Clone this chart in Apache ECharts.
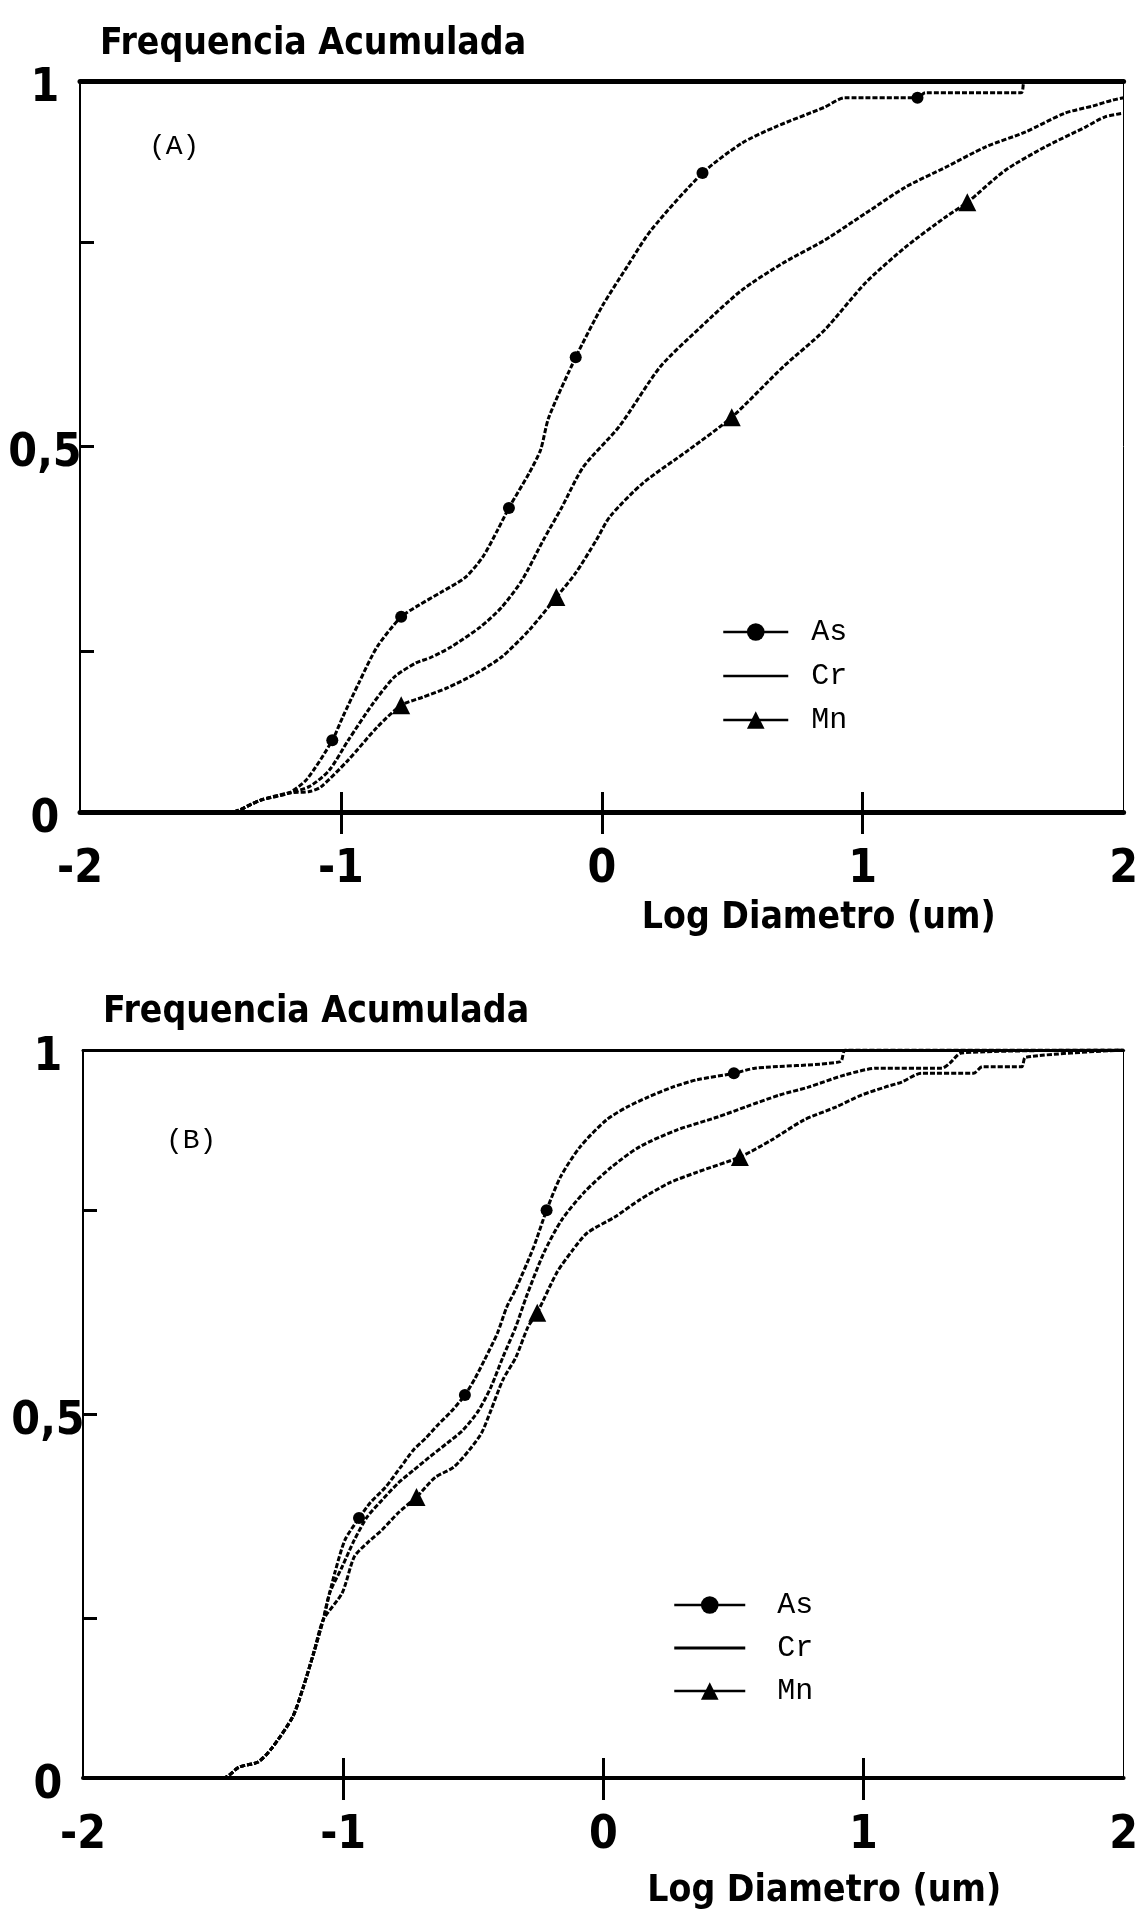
<!DOCTYPE html>
<html><head><meta charset="utf-8">
<script src="https://cdn.jsdelivr.net/npm/echarts@6/dist/echarts.min.js"></script>
<style>html,body{margin:0;padding:0;background:#fff}#c{width:1141px;height:1913px}</style>
</head><body><div id="c"></div>
<script>
// ---------------- data ----------------
const titleText = 'Frequencia Acumulada';
const xName = 'Log Diametro (um)';
const panelLabels = ['(A)', '(B)'];
const seriesNames = ['As', 'Cr', 'Mn'];
const xTickValues = [-1, 0, 1];
const yTickValues = [0.22, 0.5, 0.78];
const yLabelValues = [0, 0.5, 1];

// Panel A
const aAsX = [-2, -1.42, -1.31, -1.20, -1.13, -1.033, -0.993, -0.932, -0.861, -0.769, -0.701, -0.619, -0.523, -0.456, -0.399, -0.356, -0.278, -0.235, -0.203, -0.100, 0.000, 0.097, 0.189, 0.386, 0.537, 0.664, 0.853, 0.931, 1.210, 1.240, 1.607, 1.622, 2];
const aAsY = [0, 0, 0.016, 0.026, 0.045, 0.098, 0.130, 0.176, 0.226, 0.267, 0.283, 0.300, 0.321, 0.349, 0.386, 0.416, 0.464, 0.495, 0.540, 0.622, 0.691, 0.746, 0.796, 0.874, 0.915, 0.937, 0.964, 0.977, 0.977, 0.984, 0.984, 1.0, 1.0];
const aAsMarks = [5, 9, 15, 19, 23, 28];

const aCrX = [-2, -1.42, -1.31, -1.20, -1.12, -1.045, -0.972, -0.876, -0.794, -0.712, -0.658, -0.577, -0.466, -0.384, -0.306, -0.224, -0.153, -0.071, 0.066, 0.224, 0.378, 0.537, 0.695, 0.853, 1.011, 1.165, 1.318, 1.472, 1.622, 1.775, 1.884, 1.959, 2.0];
const aCrY = [0, 0, 0.016, 0.026, 0.035, 0.057, 0.098, 0.149, 0.185, 0.204, 0.211, 0.226, 0.253, 0.280, 0.317, 0.372, 0.417, 0.472, 0.527, 0.609, 0.663, 0.714, 0.751, 0.782, 0.819, 0.855, 0.882, 0.910, 0.930, 0.956, 0.966, 0.974, 0.977];
const aCrMarks = [];

const aMnX = [-2, -1.42, -1.31, -1.20, -1.12, -1.078, -0.972, -0.861, -0.769, -0.687, -0.591, -0.480, -0.384, -0.278, -0.174, -0.100, -0.021, 0.031, 0.158, 0.332, 0.498, 0.695, 0.853, 1.011, 1.165, 1.318, 1.401, 1.547, 1.700, 1.854, 1.929, 2.0];
const aMnY = [0, 0, 0.016, 0.026, 0.028, 0.034, 0.071, 0.116, 0.146, 0.157, 0.170, 0.190, 0.212, 0.249, 0.294, 0.327, 0.372, 0.404, 0.450, 0.495, 0.540, 0.609, 0.659, 0.724, 0.773, 0.814, 0.834, 0.878, 0.910, 0.937, 0.951, 0.956];
const aMnMarks = [8, 14, 20, 26];

// Panel B
const bAsX = [-2, -1.46, -1.40, -1.327, -1.274, -1.194, -1.153, -1.113, -1.077, -1.052, -1.032, -0.993, -0.939, -0.896, -0.836, -0.779, -0.729, -0.682, -0.636, -0.586, -0.532, -0.493, -0.457, -0.407, -0.371, -0.336, -0.268, -0.218, -0.164, -0.089, 0.012, 0.093, 0.170, 0.266, 0.359, 0.502, 0.583, 0.911, 0.931, 2];
const bAsY = [0, 0, 0.015, 0.022, 0.041, 0.084, 0.125, 0.172, 0.217, 0.254, 0.282, 0.327, 0.357, 0.378, 0.400, 0.427, 0.451, 0.467, 0.485, 0.503, 0.526, 0.549, 0.574, 0.611, 0.647, 0.672, 0.729, 0.780, 0.826, 0.867, 0.904, 0.922, 0.935, 0.949, 0.959, 0.968, 0.975, 0.984, 1.0, 1.0];
const bAsMarks = [12, 20, 27, 35];

const bCrX = [-2, -1.46, -1.40, -1.327, -1.274, -1.194, -1.153, -1.113, -1.077, -1.052, -1.004, -0.957, -0.907, -0.850, -0.789, -0.729, -0.671, -0.600, -0.539, -0.479, -0.432, -0.386, -0.336, -0.296, -0.229, -0.161, -0.075, 0.031, 0.139, 0.282, 0.440, 0.548, 0.676, 0.788, 0.931, 1.053, 1.302, 1.332, 1.377, 2];
const bCrY = [0, 0, 0.015, 0.022, 0.041, 0.084, 0.125, 0.172, 0.217, 0.254, 0.290, 0.327, 0.359, 0.382, 0.405, 0.423, 0.440, 0.460, 0.478, 0.505, 0.537, 0.578, 0.620, 0.661, 0.721, 0.766, 0.804, 0.839, 0.867, 0.890, 0.908, 0.922, 0.938, 0.949, 0.966, 0.975, 0.975, 0.982, 0.996, 1.0];
const bCrMarks = [];

const bMnX = [-2, -1.46, -1.40, -1.327, -1.274, -1.194, -1.153, -1.113, -1.077, -1.004, -0.957, -0.907, -0.850, -0.789, -0.718, -0.646, -0.575, -0.514, -0.468, -0.432, -0.386, -0.336, -0.289, -0.254, -0.179, -0.118, -0.061, 0.046, 0.139, 0.251, 0.359, 0.525, 0.645, 0.772, 0.896, 0.992, 1.083, 1.147, 1.223, 1.423, 1.457, 1.608, 1.623, 2];
const bMnY = [0, 0, 0.015, 0.022, 0.041, 0.084, 0.125, 0.172, 0.217, 0.254, 0.304, 0.323, 0.341, 0.364, 0.386, 0.413, 0.427, 0.451, 0.474, 0.505, 0.547, 0.578, 0.620, 0.639, 0.694, 0.725, 0.749, 0.771, 0.794, 0.817, 0.832, 0.853, 0.876, 0.904, 0.922, 0.938, 0.949, 0.956, 0.968, 0.968, 0.977, 0.977, 0.990, 1.0];
const bMnMarks = [14, 23, 31];

// ---------------- presentation ----------------
function hasFont(f) {
  const c = document.createElement('canvas').getContext('2d');
  const s = 'Frequencia Acumulada 0,5 -1';
  c.font = 'bold 40px monospace';
  const a = c.measureText(s).width;
  c.font = 'bold 40px "' + f + '", monospace';
  return c.measureText(s).width !== a;
}
function textWidth(t, font) {
  const c = document.createElement('canvas').getContext('2d');
  c.font = font; return c.measureText(t).width;
}
const BIG = hasFont('Liberation Sans Narrow') ? 'Liberation Sans Narrow' : 'DejaVu Sans Condensed';
const MONO = 'Liberation Mono';
function fitSize(t, w, maxFs) {
  const base = textWidth(t, 'bold 100px "' + BIG + '"');
  return Math.min(maxFs, Math.floor(100 * w / base));
}
const titleFs = fitSize(titleText, 432, 56);
const nameFs = fitSize(xName, 360, 56);
const tickFs = BIG === 'Liberation Sans Narrow' ? 50 : 46;

const panels = [
  { grid: { left: 80, top: 81, width: 1052, height: 731 }, topW: 5, bottomW: 5,
    title: { left: 100, base: 57 }, lab: { left: 149, top: 133 }, nameShift: 434, nameCenterY: 918,
    legend: { left: 717, top: 612, itemWidth: 65, itemGap: 14, pad: 18 },
    data: [[aAsX, aAsY, aAsMarks], [aCrX, aCrY, aCrMarks], [aMnX, aMnY, aMnMarks]] },
  { grid: { left: 83, top: 1050, width: 1052, height: 728 }, topW: 3, bottomW: 4,
    title: { left: 103, base: 1025 }, lab: { left: 166, top: 1127 }, nameShift: 442, nameCenterY: 1891,
    legend: { left: 668, top: 1585, itemWidth: 71, itemGap: 13, pad: 27 },
    data: [[bAsX, bAsY, bAsMarks], [bCrX, bCrY, bCrMarks], [bMnX, bMnY, bMnMarks]] }
];

const symbols = ['circle', 'none', 'triangle'];
const symSizes = [12, 0, 18];
const lineDash = [5, 2];

const option = { backgroundColor: '#fff', animation: false, grid: [], xAxis: [], yAxis: [], series: [], title: [], legend: [] };

panels.forEach((p, g) => {
  option.grid.push(Object.assign({ containLabel: false }, p.grid));
  const bottomY = p.grid.top + p.grid.height;
  option.xAxis.push({
    gridIndex: g, type: 'value', min: -2, max: 2, interval: 1, position: 'bottom',
    axisLine: { show: true, onZero: false, lineStyle: { color: '#000', width: p.bottomW } },
    axisTick: { show: true, inside: false, customValues: xTickValues, length: 22, lineStyle: { color: '#000', width: 3 } },
    axisLabel: { show: true, margin: 35, color: '#000', fontFamily: BIG, fontWeight: 'bold', fontSize: tickFs,
      formatter: v => String(v) },
    splitLine: { show: false },
    name: xName, nameLocation: 'middle', nameGap: p.nameCenterY - bottomY - nameFs / 2,
    nameTextStyle: { color: '#000', fontFamily: BIG, fontWeight: 'bold', fontSize: nameFs, padding: [0, 0, 0, p.nameShift] }
  });
  option.xAxis.push({
    gridIndex: g, type: 'value', min: -2, max: 2, interval: 1, position: 'bottom',
    axisLine: { show: false }, axisLabel: { show: false }, splitLine: { show: false },
    axisTick: { show: true, inside: true, customValues: xTickValues, length: 20, lineStyle: { color: '#000', width: 3 } }
  });
  option.xAxis.push({
    gridIndex: g, type: 'value', min: -2, max: 2, interval: 1, position: 'top',
    axisLine: { show: true, onZero: false, lineStyle: { color: '#000', width: p.topW } },
    axisTick: { show: false }, axisLabel: { show: false }, splitLine: { show: false }
  });
  option.yAxis.push({
    gridIndex: g, type: 'value', min: 0, max: 1, position: 'left',
    axisLine: { show: true, onZero: false, lineStyle: { color: '#000', width: 2 } },
    axisTick: { show: true, inside: true, customValues: yTickValues, length: 14, lineStyle: { color: '#000', width: 3 } },
    axisLabel: { show: true, customValues: yLabelValues, align: 'center', verticalAlign: 'top', lineHeight: 16,
      margin: 35, color: '#000', fontFamily: BIG, fontWeight: 'bold', fontSize: tickFs,
      formatter: v => String(v).replace('.', ',') },
    splitLine: { show: false }
  });
  option.yAxis.push({
    gridIndex: g, type: 'value', min: 0, max: 1, position: 'right',
    axisLine: { show: true, onZero: false, lineStyle: { color: '#000', width: 1 } },
    axisTick: { show: false }, axisLabel: { show: false }, splitLine: { show: false }
  });

  option.title.push({ text: titleText, left: p.title.left, top: p.title.base - Math.round(titleFs * 0.85), padding: 0,
    textStyle: { color: '#000', fontFamily: BIG, fontWeight: 'bold', fontSize: titleFs } });
  option.title.push({ text: panelLabels[g], left: p.lab.left, top: p.lab.top, padding: 0,
    textStyle: { color: '#000', fontFamily: MONO, fontWeight: 'normal', fontSize: 28 } });

  option.legend.push({
    data: [
      { name: 'As' },
      { name: 'Cr', icon: 'path://M0,0 L64,0 L64,2.5 L0,2.5 Z' },
      { name: 'Mn' }
    ],
    orient: 'vertical', left: p.legend.left, top: p.legend.top,
    itemWidth: p.legend.itemWidth, itemHeight: 22, itemGap: p.legend.itemGap, selectedMode: false,
    lineStyle: { type: 'solid', width: 2.5, color: '#000' },
    textStyle: { color: '#000', fontFamily: MONO, fontSize: 30, lineHeight: 28, padding: [0, 0, 0, p.legend.pad] }
  });

  p.data.forEach((d, si) => {
    const [xs, ys, marks] = d;
    const pts = xs.map((x, i) => {
      const item = { value: [x, ys[i]] };
      if (marks.indexOf(i) < 0) item.symbol = 'none';
      return item;
    });
    option.series.push({
      name: seriesNames[si], type: 'line', xAxisIndex: g * 3, yAxisIndex: g * 2,
      data: pts, smooth: 0.25, symbol: symbols[si], symbolSize: symSizes[si], showAllSymbol: true,
      itemStyle: { color: '#000' },
      lineStyle: { color: '#000', width: 3, type: lineDash },
      z: 3
    });
  });
});

const chart = echarts.init(document.getElementById('c'), null, { renderer: 'canvas' });
chart.setOption(option);
</script>
</body></html>
